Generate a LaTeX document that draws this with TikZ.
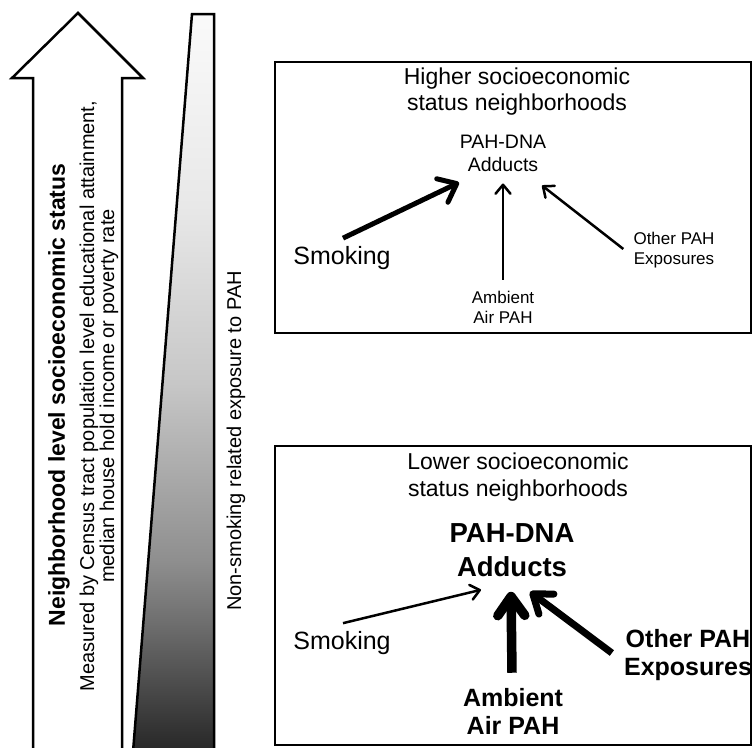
\documentclass[tikz,border=0pt]{standalone}
\usepackage{fontspec}
\setmainfont{Liberation Sans}
\usepackage{tikz}
\usetikzlibrary{arrows.meta}
\def\fs#1#2{\fontsize{#1}{#2}\selectfont}
\pgfdeclareverticalshading{pahshade}{100bp}{color(0bp)=(black!85); color(25bp)=(black!85); color(34bp)=(black!56); color(38bp)=(black!44); color(50bp)=(black!22); color(62bp)=(black!9); color(75bp)=(black!2); color(100bp)=(black!2)}
\tikzstyle{outline}=[draw=black,line width=2.5pt,line join=miter]
\tikzstyle{lbl}=[inner sep=1pt,align=center]
\tikzstyle{vlbl}=[lbl,rotate=90]
\tikzstyle{lightarr}=[line width=2.5pt,-{Straight Barb[length=9pt,width=15pt,round]}]
\tikzstyle{midarr}=[line width=5pt,-{Straight Barb[length=16pt,width=26pt,round]}]
\tikzstyle{boldarr}=[line width=7pt,-{Straight Barb[length=17pt,width=25pt,round]}]
\tikzstyle{heavyarr}=[line width=9.5pt,-{Straight Barb[length=19pt,width=27pt,round]}]

\begin{document}
\begin{tikzpicture}[x=1pt,y=-1pt]
    \useasboundingbox (0,0) rectangle (755,747);
    \clip (0,0) rectangle (755,747);
    \fill[white] (0,0) rectangle (755,747);
    \draw[outline] (33,760) -- (33,78) -- (12,78) -- (78,13) -- (143,78) -- (122,78) -- (122,760);
    \draw[outline,shading=pahshade] (133,752) -- (192,14) -- (214,14) -- (214,752) -- cycle;
    \draw[outline] (275,62) rectangle (751,333);
    \draw[outline] (275,446) rectangle (751,745);

    \node[vlbl,font=\fs{23}{26}\bfseries] (nbhd) at (59,395) {Neighborhood level socioeconomic status};
    \node[vlbl,font=\fs{20}{20}] (measure) at (99,396) {Measured by Census tract population level educational attainment,\\median house hold income or poverty rate};
    \node[vlbl,font=\fs{20}{22}] (nonsmk) at (236,441) {Non-smoking related exposure to PAH};

    \node[lbl,font=\fs{23}{26}] (hiTitle) at (517,92) {Higher socioeconomic\\status neighborhoods};
    \node[lbl,font=\fs{19.5}{23}] (hiAdd) at (503,153) {PAH-DNA\\Adducts};
    \node[lbl,font=\fs{25}{28}] (hiSmk) at (342,258) {Smoking};
    \node[lbl,font=\fs{17}{20}] (hiAmb) at (503,307) {Ambient\\Air PAH};
    \node[lbl,font=\fs{17}{20}] (hiOth) at (674,250) {Other PAH\\Exposures};

    \node[lbl,font=\fs{23}{26.5}] (loTitle) at (518,477) {Lower socioeconomic\\status neighborhoods};
    \node[lbl,font=\fs{27.5}{34}\bfseries] (loAdd) at (512,550) {PAH-DNA\\Adducts};
    \node[lbl,font=\fs{25}{28}] (loSmk) at (342,643) {Smoking};
    \node[lbl,font=\fs{25}{28}\bfseries] (loAmb) at (513,711) {Ambient\\Air PAH};
    \node[lbl,font=\fs{25}{28}\bfseries] (loOth) at (688,655) {Other PAH\\Exposures};

    \draw[midarr] ([xshift=1pt,yshift=7pt]hiSmk.north) -- ([xshift=-44pt,yshift=-10pt]hiAdd.south);
    \draw[lightarr] ([yshift=10pt]hiAmb.north) -- ([yshift=-11pt]hiAdd.south);
    \draw[lightarr] ([xshift=-9pt,yshift=1pt]hiOth.west) -- ([xshift=39pt,yshift=-13pt]hiAdd.south);
    \draw[lightarr] ([xshift=1pt,yshift=7pt]loSmk.north) -- ([xshift=-31pt,yshift=-12pt]loAdd.south);
    \draw[heavyarr] ([xshift=-1pt,yshift=14pt]loAmb.north) -- ([xshift=-1pt,yshift=-14pt]loAdd.south);
    \draw[boldarr] ([xshift=-11pt,yshift=2pt]loOth.west) -- ([xshift=18pt,yshift=-14pt]loAdd.south);
\end{tikzpicture}
\end{document}
